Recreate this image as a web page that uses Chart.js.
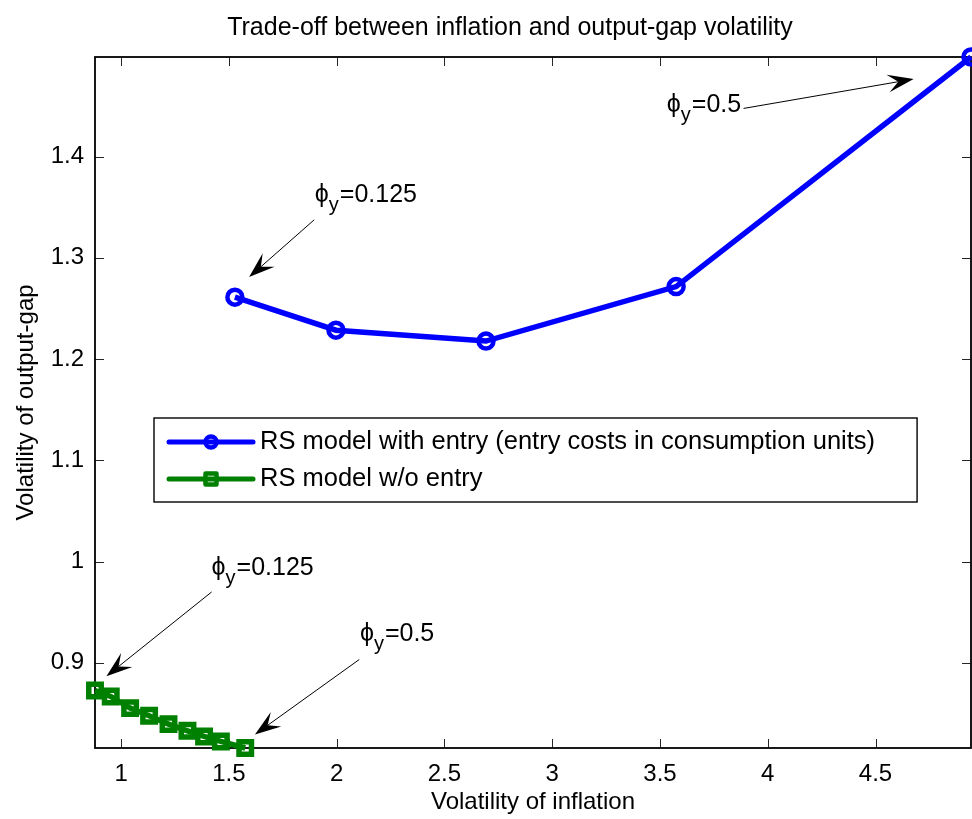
<!DOCTYPE html>
<html>
<head>
<meta charset="utf-8">
<title>Trade-off between inflation and output-gap volatility</title>
<script src="https://cdn.jsdelivr.net/npm/chart.js@4.4.1/dist/chart.umd.min.js"></script>
<style>
body { margin: 0; background: #fff; }
#wrap { width: 972px; height: 819px; }
</style>
</head>
<body>
<div id="wrap"><canvas id="tradeoff" width="972" height="819"></canvas></div>
<script>
// values
var entryX = [1.528, 1.997, 2.693, 3.575, 4.943];
var entryY = [1.2612, 1.2286, 1.2178, 1.2716, 1.4984];
var noEntryX = [0.879, 0.952, 1.042, 1.130, 1.220, 1.308, 1.385, 1.463, 1.576];
var noEntryY = [0.8727, 0.8668, 0.8553, 0.8477, 0.8395, 0.8329, 0.8273, 0.8224, 0.8159];
var xTicks = [1, 1.5, 2, 2.5, 3, 3.5, 4, 4.5];
var yTicks = [0.9, 1, 1.1, 1.2, 1.3, 1.4];
var seriesNames = ['RS model with entry (entry costs in consumption units)', 'RS model w/o entry'];
var chartTitle = 'Trade-off between inflation and output-gap volatility';

// text arrows (data coordinates)
var notes = [
    { value: '=0.5',   text: [3.532, 1.4437], from: [3.888, 1.4476], to: [4.677, 1.4766] },
    { value: '=0.125', text: [1.899, 1.3550], from: [1.896, 1.3376], to: [1.594, 1.2810] },
    { value: '=0.125', text: [1.420, 0.9870], from: [1.420, 0.9700], to: [0.932, 0.8868] },
    { value: '=0.5',   text: [2.108, 0.9213], from: [2.105, 0.9033], to: [1.621, 0.8293] }
];

var FONT = '"Liberation Sans", Arial, Helvetica, sans-serif';
var BLUE = '#0000ff';
var GREEN = '#008000';

function toPoints(xs, ys) {
    return xs.map(function (x, i) { return { x: x, y: ys[i] }; });
}

function drawArrow(ctx, x1, y1, x2, y2) {
    var ang = Math.atan2(y2 - y1, x2 - x1);
    var L = 26, W = 9;
    ctx.beginPath();
    ctx.moveTo(x1, y1);
    ctx.lineTo(x2 - Math.cos(ang) * L * 0.6, y2 - Math.sin(ang) * L * 0.6);
    ctx.stroke();
    ctx.save();
    ctx.translate(x2, y2);
    ctx.rotate(ang);
    ctx.beginPath();
    ctx.moveTo(0, 0);
    ctx.lineTo(-L, -W);
    ctx.lineTo(-L * 0.6, 0);
    ctx.lineTo(-L, W);
    ctx.closePath();
    ctx.fill();
    ctx.restore();
}

var matlabFrame = {
    id: 'matlabFrame',
    beforeDatasetsDraw: function (chart) {
        var ctx = chart.ctx, a = chart.chartArea;
        var sx = chart.scales.x, sy = chart.scales.y;
        ctx.save();
        // title, centred like the original axes title
        ctx.fillStyle = '#000';
        ctx.font = '25px ' + FONT;
        ctx.textAlign = 'center';
        ctx.textBaseline = 'middle';
        ctx.fillText(chartTitle, 510, 28);

        ctx.strokeStyle = '#262626';
        ctx.lineWidth = 1;
        ctx.beginPath();
        xTicks.forEach(function (v) {
            var px = Math.round(sx.getPixelForValue(v)) + 0.5;
            ctx.moveTo(px, a.bottom); ctx.lineTo(px, a.bottom - 9);
            ctx.moveTo(px, a.top); ctx.lineTo(px, a.top + 9);
        });
        yTicks.forEach(function (v) {
            var py = Math.round(sy.getPixelForValue(v)) + 0.5;
            ctx.moveTo(a.left, py); ctx.lineTo(a.left + 9, py);
            ctx.moveTo(a.right, py); ctx.lineTo(a.right - 9, py);
        });
        ctx.stroke();
        ctx.strokeStyle = '#000';
        ctx.lineWidth = 1.8;
        ctx.strokeRect(a.left, a.top, a.right - a.left, a.bottom - a.top);
        ctx.restore();
    },
    afterDraw: function (chart) {
        var ctx = chart.ctx, a = chart.chartArea;
        var sx = chart.scales.x, sy = chart.scales.y;
        ctx.save();

        // annotations
        ctx.strokeStyle = '#000';
        ctx.fillStyle = '#000';
        ctx.lineWidth = 1;
        notes.forEach(function (n) {
            drawArrow(ctx,
                sx.getPixelForValue(n.from[0]), sy.getPixelForValue(n.from[1]),
                sx.getPixelForValue(n.to[0]), sy.getPixelForValue(n.to[1]));
            var tx = sx.getPixelForValue(n.text[0]);
            var ty = sy.getPixelForValue(n.text[1]);
            ctx.textBaseline = 'alphabetic';
            ctx.textAlign = 'left';
            ctx.font = '25px ' + FONT;
            ctx.fillText('\u03d5', tx, ty);
            var w1 = ctx.measureText('\u03d5').width;
            ctx.font = '20px ' + FONT;
            ctx.fillText('y', tx + w1, ty + 9);
            var w2 = ctx.measureText('y').width;
            ctx.font = '25px ' + FONT;
            ctx.fillText(n.value, tx + w1 + w2 + 1, ty);
        });

        // legend box
        ctx.font = '25.5px ' + FONT;
        var textW = Math.max(ctx.measureText(seriesNames[0]).width, ctx.measureText(seriesNames[1]).width);
        var lx = a.left + 59, ly = a.top + 361;
        var lw = 106 + textW + 42, lh = 84;
        ctx.fillStyle = '#fff';
        ctx.fillRect(lx, ly, lw, lh);
        ctx.strokeStyle = '#000';
        ctx.lineWidth = 1.4;
        ctx.strokeRect(lx, ly, lw, lh);

        var rows = [ly + 24, ly + 61];
        var colors = [BLUE, GREEN];
        rows.forEach(function (ry, i) {
            ctx.strokeStyle = colors[i];
            ctx.lineWidth = 5;
            ctx.lineCap = 'round';
            ctx.beginPath();
            ctx.moveTo(lx + 15, ry);
            ctx.lineTo(lx + 99, ry);
            ctx.stroke();
            ctx.lineWidth = 4.5;
            ctx.beginPath();
            if (i === 0) {
                ctx.arc(lx + 57, ry, 5.5, 0, Math.PI * 2);
            } else {
                ctx.lineJoin = 'round';
                ctx.rect(lx + 57 - 5.5, ry - 5.5, 11, 11);
            }
            ctx.stroke();
            ctx.fillStyle = '#000';
            ctx.textAlign = 'left';
            ctx.textBaseline = 'middle';
            ctx.fillText(seriesNames[i], lx + 106, ry);
        });
        ctx.restore();
    }
};

Chart.defaults.color = '#000';
Chart.defaults.font.family = FONT;

var allX = entryX.concat(noEntryX);
var allY = entryY.concat(noEntryY);

var ctx = document.getElementById('tradeoff').getContext('2d');
var myChart = new Chart(ctx, {
    type: 'scatter',
    data: {
        datasets: [{
            label: seriesNames[0],
            data: toPoints(entryX, entryY),
            showLine: true,
            borderColor: BLUE,
            borderWidth: 5.5,
            pointStyle: 'circle',
            pointRadius: 7.5,
            pointBorderWidth: 4.5,
            pointBorderColor: BLUE,
            pointBackgroundColor: 'rgba(0,0,0,0)',
            clip: false
        }, {
            label: seriesNames[1],
            data: toPoints(noEntryX, noEntryY),
            showLine: true,
            borderColor: GREEN,
            borderWidth: 5.5,
            pointStyle: 'rect',
            pointRadius: 8.8,
            pointBorderWidth: 5.5,
            pointBorderColor: GREEN,
            pointBackgroundColor: 'rgba(0,0,0,0)',
            clip: false
        }]
    },
    options: {
        responsive: false,
        animation: false,
        devicePixelRatio: 1,
        layout: {
            autoPadding: false,
            padding: { top: 57, left: 0, right: 1, bottom: 0 }
        },
        plugins: {
            legend: { display: false },
            tooltip: { enabled: false },
            title: { display: false }
        },
        scales: {
            x: {
                type: 'linear',
                min: Math.min.apply(null, allX),
                max: Math.max.apply(null, allX),
                afterBuildTicks: function (scale) {
                    scale.ticks = xTicks.map(function (v) { return { value: v }; });
                },
                afterFit: function (scale) {
                    scale.height = 71;
                    scale.paddingLeft = 0;
                    scale.paddingRight = 0;
                },
                grid: { display: false, drawTicks: false },
                border: { display: false },
                ticks: {
                    padding: 12,
                    autoSkip: false,
                    maxRotation: 0,
                    font: { size: 24 },
                    callback: function (v) { return String(v); }
                },
                title: {
                    display: true,
                    text: 'Volatility of inflation',
                    font: { size: 24 },
                    padding: { top: 0, bottom: 2 }
                }
            },
            y: {
                type: 'linear',
                min: Math.min.apply(null, allY),
                max: Math.max.apply(null, allY),
                afterBuildTicks: function (scale) {
                    scale.ticks = yTicks.map(function (v) { return { value: v }; });
                },
                afterFit: function (scale) {
                    scale.width = 95;
                    scale.paddingTop = 0;
                    scale.paddingBottom = 0;
                },
                grid: { display: false, drawTicks: false },
                border: { display: false },
                ticks: {
                    padding: 11,
                    autoSkip: false,
                    font: { size: 24 },
                    callback: function (v) { return String(v); }
                },
                title: {
                    display: true,
                    text: 'Volatility of output-gap',
                    font: { size: 24 },
                    padding: { top: 12, bottom: 0 }
                }
            }
        }
    },
    plugins: [matlabFrame]
});
</script>
</body>
</html>
